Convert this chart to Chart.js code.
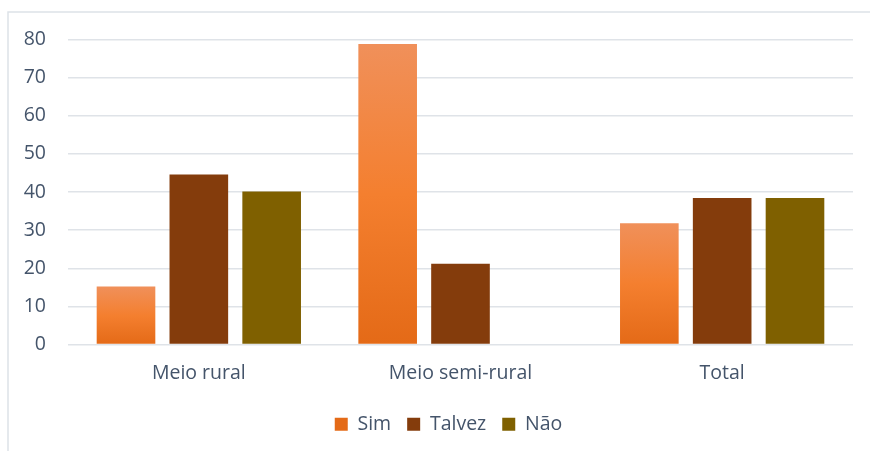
<!DOCTYPE html>
<html>
<head>
<meta charset="utf-8">
<script src="https://cdn.jsdelivr.net/npm/chart.js@4/dist/chart.umd.min.js"></script>
<style>
html,body{margin:0;padding:0;background:#fff;}
#wrap{position:relative;width:870px;height:451px;}
</style>
</head>
<body>
<div id="wrap"><canvas id="c" width="870" height="451"></canvas></div>
<script>
const categories = ["Meio rural", "Meio semi-rural", "Total"];
const seriesNames = ["Sim", "Talvez", "Não"];
const simValues = [15.2, 78.8, 31.8];
const talvezValues = [44.6, 21.2, 38.4];
const naoValues = [40.1, 0, 38.4];
const yTicks = [0, 10, 20, 30, 40, 50, 60, 70, 80];

const TEXT = '#44546A';
const GRID = '#dfe3e8';
const FONT = "'Open Sans', Lato, sans-serif";
const FS = 19.5;

function simFill(ctx) {
  const chart = ctx.chart;
  const y = chart.scales && chart.scales.y;
  if (!y || ctx.raw === undefined || !chart.ctx) return '#F47E2E';
  const top = y.getPixelForValue(ctx.raw);
  const base = y.getPixelForValue(0);
  if (!isFinite(top) || !isFinite(base) || Math.abs(base - top) < 1) return '#F47E2E';
  const g = chart.ctx.createLinearGradient(0, top, 0, base);
  g.addColorStop(0, '#F0905A');
  g.addColorStop(0.5, '#F47F2F');
  g.addColorStop(1, '#E46A17');
  return g;
}

const frame = {
  id: 'frame',
  afterLayout(chart) {
    if (chart.legend) { chart.legend.left += 22; chart.legend.right += 22; }
  },
  beforeDraw(chart) {
    const c = chart.ctx;
    c.save();
    c.strokeStyle = '#dde2e8';
    c.lineWidth = 1.5;
    c.beginPath();
    c.moveTo(8, 451);
    c.lineTo(8, 12);
    c.lineTo(870, 12);
    c.stroke();
    c.restore();
  }
};

new Chart(document.getElementById('c'), {
  type: 'bar',
  data: {
    labels: categories,
    datasets: [
      { label: seriesNames[0], data: simValues, backgroundColor: simFill },
      { label: seriesNames[1], data: talvezValues, backgroundColor: '#843C0C' },
      { label: seriesNames[2], data: naoValues, backgroundColor: '#7F6000' }
    ]
  },
  options: {
    responsive: false,
    animation: false,
    devicePixelRatio: 1,
    layout: { padding: { left: 0, right: 17, top: 39.5, bottom: 7 } },
    datasets: { bar: { categoryPercentage: 0.835, barPercentage: 0.805 } },
    plugins: {
      legend: {
        position: 'bottom',
        labels: {
          color: TEXT,
          font: { family: FONT, size: FS },
          boxWidth: 13,
          boxHeight: 13,
          padding: 16
        }
      },
      tooltip: { enabled: false }
    },
    scales: {
      x: {
        grid: { display: false, drawTicks: false },
        border: { display: false },
        ticks: { color: TEXT, font: { family: FONT, size: FS }, padding: 17.5 },
        afterFit(s) { s.height = 54; }
      },
      y: {
        min: 0, max: 80,
        afterBuildTicks(s) { s.ticks = yTicks.map(v => ({ value: v })); },
        grid: { color: GRID, lineWidth: 1.5, drawTicks: false },
        border: { display: false },
        ticks: { color: TEXT, font: { family: FONT, size: FS }, padding: 22 },
        afterFit(s) { s.width = 68; }
      }
    }
  },
  plugins: [frame]
});
</script>
</body>
</html>
